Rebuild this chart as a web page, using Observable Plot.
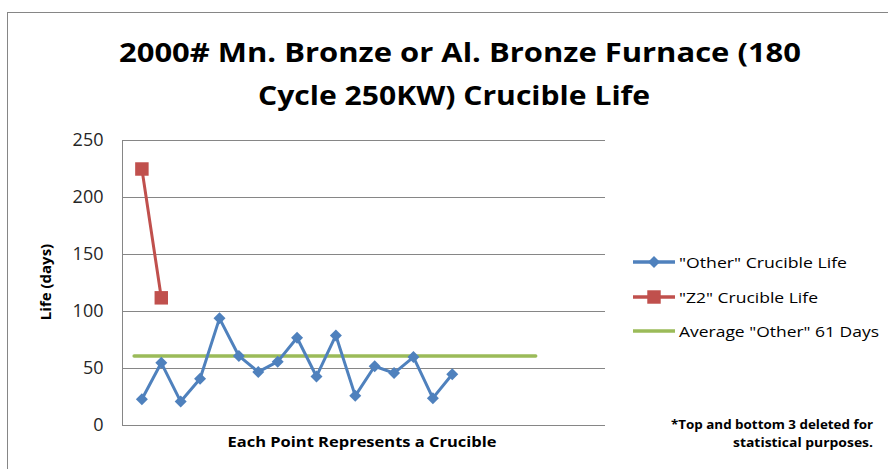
<!DOCTYPE html>
<html><head><meta charset="utf-8">
<script src="https://cdn.jsdelivr.net/npm/d3@7"></script>
<script src="https://cdn.jsdelivr.net/npm/@observablehq/plot@0.6"></script>
<style>body{margin:0;background:#fff;overflow:hidden} svg{display:block}</style>
</head><body><div id="chart"></div>
<script>
const titleLines = ['2000# Mn. Bronze or Al. Bronze Furnace (180', 'Cycle 250KW) Crucible Life'];
const otherLife = [23,55,21,41,94,61,47,56,77,43,79,26,52,46,60,24,45];
const z2Life = [225,112];
const averageOther = 61;
const averageSpan = [0.6, 21.3];
const yTicks = [0,50,100,150,200,250];
const seriesNames = ['"Other" Crucible Life','"Z2" Crucible Life','Average "Other" 61 Days'];
const colors = ['#4F81BD','#C0504D','#9BBB59'];
const footnote = ['*Top and bottom 3 deleted for','statistical purposes.'];
const xLabel = 'Each Point Represents a Crucible';
const yLabel = 'Life (days)';

const other = otherLife.map((v,i)=>({x:i+1,y:v}));
const z2 = z2Life.map((v,i)=>({x:i+1,y:v}));
const avg = averageSpan.map(x=>({x,y:averageOther}));

const W = 888, H = 469;
const chart = Plot.plot({
  width: W, height: H,
  marginLeft: 122, marginRight: 283, marginTop: 140, marginBottom: 44,
  style: {fontFamily: '"Open Sans", sans-serif', background: '#fff'},
  x: {domain: [0, 24.9], axis: null},
  y: {domain: [0, 250], label: null},
  marks: [
    Plot.gridY(yTicks, {stroke: '#868686', strokeOpacity: 1, strokeWidth: 1}),
    Plot.ruleX([0], {y1: 0, y2: 250, stroke: '#868686', strokeWidth: 1}),
    Plot.axisY(yTicks, {tickSize: 0, tickPadding: 19, fontSize: 18, fill: '#262626', label: null}),
    Plot.line(avg, {x: 'x', y: 'y', stroke: colors[2], strokeWidth: 3.5}),
    Plot.line(other, {x: 'x', y: 'y', stroke: colors[0], strokeWidth: 3}),
    Plot.dot(other, {x: 'x', y: 'y', symbol: 'diamond2', r: 5.4, fill: colors[0], stroke: 'none'}),
    Plot.line(z2, {x: 'x', y: 'y', stroke: colors[1], strokeWidth: 3}),
    Plot.dot(z2, {x: 'x', y: 'y', symbol: 'square', r: 7.6, fill: colors[1], stroke: 'none'})
  ]
});
document.getElementById('chart').appendChild(chart);

const svg = d3.select(chart);
// outer chart border
svg.insert('rect', ':first-child').attr('x', 7.5).attr('y', 12.5).attr('width', W).attr('height', H)
  .attr('fill', 'none').attr('stroke', '#868686').attr('stroke-width', 1);

const tl = svg.append('g').attr('font-family', '"Open Sans", sans-serif').attr('font-weight', 'bold')
  .attr('font-size', 27).attr('fill', '#000').attr('text-anchor', 'middle');
const titleLens = [682, 392];
const titleX = [460, 454];
const titleY = [62, 105];
titleLines.forEach((t, i) => {
  tl.append('text').attr('x', titleX[i]).attr('y', titleY[i]).attr('textLength', titleLens[i])
    .attr('lengthAdjust', 'spacingAndGlyphs').text(t);
});

svg.append('text').attr('transform', 'translate(51,282) rotate(-90)').attr('text-anchor', 'middle')
  .attr('font-family', '"Open Sans", sans-serif').attr('font-weight', 'bold').attr('font-size', 15)
  .attr('fill', '#000').text(yLabel);

svg.append('text').attr('x', 362).attr('y', 447).attr('text-anchor', 'middle')
  .attr('font-family', '"Open Sans", sans-serif').attr('font-weight', 'bold').attr('font-size', 15)
  .attr('textLength', 269).attr('lengthAdjust', 'spacingAndGlyphs')
  .attr('fill', '#000').text(xLabel);

// legend
const lg = svg.append('g').attr('font-family', '"Open Sans", sans-serif').attr('font-size', 15)
  .attr('fill', '#000').attr('text-anchor', 'start');
const legY = [262, 297, 331];
const legLen = [168, 139, 200];
const symbols = [d3.symbolDiamond2, d3.symbolSquare, null];
const symSize = [92, 181, 0];
seriesNames.forEach((n, i) => {
  const g = lg.append('g').attr('transform', `translate(0,${legY[i]})`);
  g.append('line').attr('x1', 633).attr('x2', 675).attr('stroke', colors[i]).attr('stroke-width', 3.5);
  if (symbols[i]) g.append('path').attr('transform', 'translate(654,0)')
    .attr('d', d3.symbol(symbols[i], symSize[i])()).attr('fill', colors[i]);
  g.append('text').attr('x', 679).attr('y', 5.5).attr('text-anchor', 'start').attr('textLength', legLen[i])
    .attr('lengthAdjust', 'spacingAndGlyphs').text(n);
});

// footnote
const fn = svg.append('g').attr('font-family', '"Open Sans", sans-serif').attr('font-weight', 'bold')
  .attr('font-size', 12).attr('fill', '#000').attr('text-anchor', 'end');
const fnY = [429, 447];
const fnLen = [202, 140];
footnote.forEach((t, i) => fn.append('text').attr('x', 873).attr('y', fnY[i])
  .attr('textLength', fnLen[i]).attr('lengthAdjust', 'spacingAndGlyphs').text(t));
</script>
</body></html>
